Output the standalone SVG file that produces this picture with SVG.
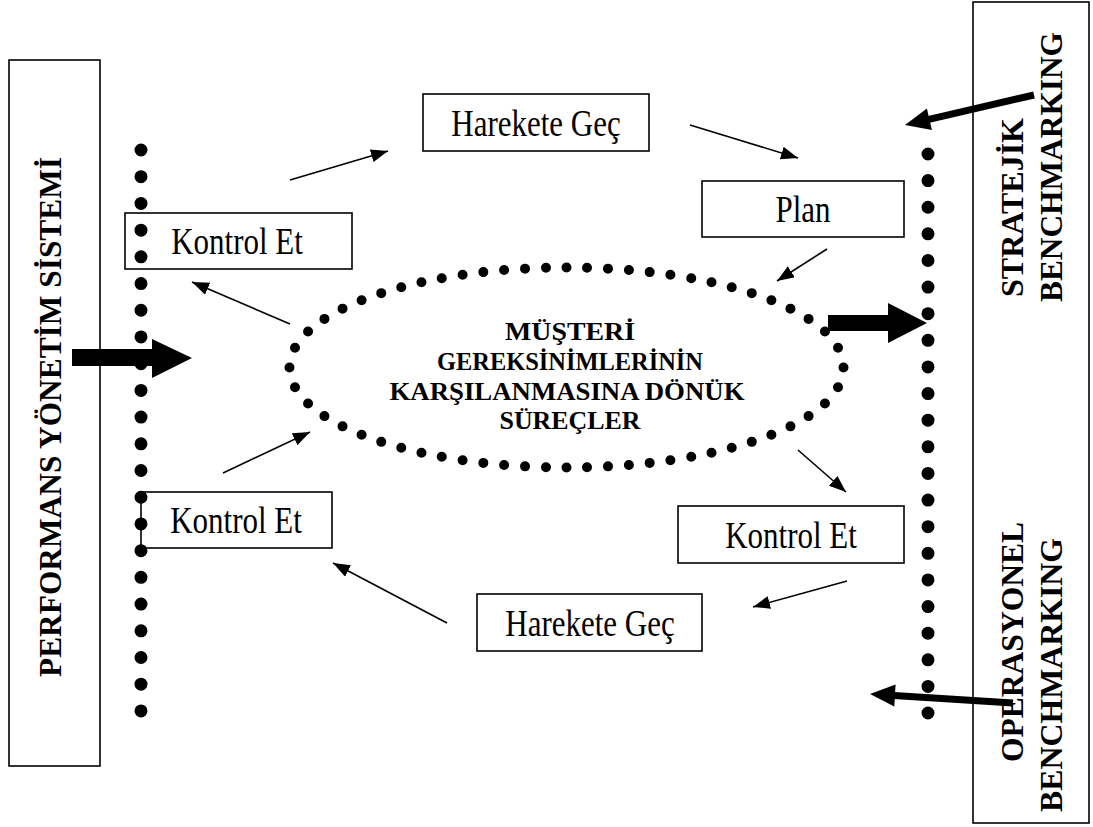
<svg xmlns="http://www.w3.org/2000/svg" width="1093" height="827" viewBox="0 0 1093 827">
  <defs>
    <style>
      .box { fill: none; stroke: #000; stroke-width: 1.6; }
      .lbl { font-family: "Liberation Serif", "Times New Roman", serif; font-size: 31px; fill: #000; text-anchor: middle; }
      .vlbl { font-family: "Liberation Serif", "Times New Roman", serif; font-size: 32px; font-weight: bold; fill: #000; }
      .core { font-family: "Liberation Serif", "Times New Roman", serif; font-size: 26px; font-weight: bold; fill: #000; text-anchor: middle; }
      .dots { fill: none; stroke: #000; stroke-linecap: round; }
      .thin { stroke: #000; stroke-width: 1.6; fill: none; marker-end: url(#head); }
      .bold { fill: #000; stroke: none; }
    </style>
    <marker id="head" markerUnits="userSpaceOnUse" markerWidth="18" markerHeight="14" refX="17" refY="6.5" orient="auto">
      <path d="M0,0 L17,6.5 L0,13 z" fill="#000"/>
    </marker>
  </defs>

  <rect width="1093" height="827" fill="#fff"/>

  <!-- side panels -->
  <g id="performans-yonetim-sistemi">
    <rect class="box" x="9" y="60" width="91" height="706"/>
    <text class="vlbl" font-size="34" transform="translate(60.5,677) rotate(-90)" textLength="520" lengthAdjust="spacingAndGlyphs">PERFORMANS YÖNETİM SİSTEMİ</text>
  </g>
  <g id="benchmarking-panel">
    <rect class="box" x="973" y="2" width="116" height="821"/>
  </g>
  <g id="stratejik-benchmarking">
    <text class="vlbl" transform="translate(1023,297) rotate(-90)" textLength="179" lengthAdjust="spacingAndGlyphs">STRATEJİK</text>
    <text class="vlbl" transform="translate(1062,302) rotate(-90)" textLength="270" lengthAdjust="spacingAndGlyphs">BENCHMARKING</text>
  </g>
  <g id="operasyonel-benchmarking">
    <text class="vlbl" transform="translate(1023,762) rotate(-90)" textLength="240" lengthAdjust="spacingAndGlyphs">OPERASYONEL</text>
    <text class="vlbl" transform="translate(1062,812) rotate(-90)" textLength="274" lengthAdjust="spacingAndGlyphs">BENCHMARKING</text>
  </g>

  <!-- step boxes (labels set in a tall, narrow face) -->
  <g id="kontrol-et-1">
    <rect class="box" x="125" y="213" width="227" height="56"/>
    <text class="lbl" transform="translate(237,254) scale(1,1.22)">Kontrol Et</text>
  </g>
  <g id="harekete-gec-1">
    <rect class="box" x="423" y="94" width="226" height="57"/>
    <text class="lbl" transform="translate(536,135.5) scale(1,1.22)">Harekete Geç</text>
  </g>
  <g id="plan">
    <rect class="box" x="702" y="181" width="202" height="56"/>
    <text class="lbl" transform="translate(803,222) scale(1,1.22)">Plan</text>
  </g>
  <g id="kontrol-et-2">
    <rect class="box" x="141" y="492" width="191" height="56"/>
    <text class="lbl" transform="translate(236,533) scale(1,1.22)">Kontrol Et</text>
  </g>
  <g id="kontrol-et-3">
    <rect class="box" x="678" y="506" width="226" height="57"/>
    <text class="lbl" transform="translate(791,547.5) scale(1,1.22)">Kontrol Et</text>
  </g>
  <g id="harekete-gec-2">
    <rect class="box" x="477" y="594" width="225" height="57"/>
    <text class="lbl" transform="translate(590,635.5) scale(1,1.22)">Harekete Geç</text>
  </g>

  <!-- dotted boundaries -->
  <g id="left-boundary">
    <line class="dots" x1="141" y1="150" x2="141" y2="712" stroke-width="13" stroke-dasharray="0 26.71"/>
  </g>
  <g id="right-boundary">
    <line class="dots" x1="928" y1="154" x2="928" y2="714" stroke-width="13" stroke-dasharray="0 26.62"/>
  </g>

  <!-- central process -->
  <g id="musteri-surecleri">
    <ellipse class="dots" cx="566.5" cy="367.5" rx="277" ry="100" stroke-width="10" pathLength="60" stroke-dasharray="0 1"/>
    <text class="core" x="570" y="340" textLength="130" lengthAdjust="spacingAndGlyphs">MÜŞTERİ</text>
    <text class="core" x="570" y="370" textLength="266" lengthAdjust="spacingAndGlyphs">GEREKSİNİMLERİNİN</text>
    <text class="core" x="567" y="400" textLength="355" lengthAdjust="spacingAndGlyphs">KARŞILANMASINA DÖNÜK</text>
    <text class="core" x="570" y="429" textLength="141" lengthAdjust="spacingAndGlyphs">SÜREÇLER</text>
  </g>

  <!-- connectors -->
  <g id="connectors">
    <line class="thin" x1="290" y1="180" x2="388" y2="151"/>
    <line class="thin" x1="690" y1="125" x2="798" y2="158"/>
    <line class="thin" x1="827" y1="249" x2="777" y2="281"/>
    <line class="thin" x1="290" y1="324" x2="192" y2="282"/>
    <line class="thin" x1="223" y1="473" x2="310" y2="432"/>
    <line class="thin" x1="798" y1="450" x2="846" y2="492"/>
    <line class="thin" x1="847" y1="581" x2="753" y2="607"/>
    <line class="thin" x1="447" y1="623" x2="333" y2="563"/>

    <polygon class="bold" points="72,349 152,349 152,339 192,358 152,378 152,366 72,366"/>
    <polygon class="bold" points="828,315 888,315 888,303 927,323 888,343 888,331 828,331"/>

    <line x1="1034" y1="95" x2="929" y2="119.3" stroke="#000" stroke-width="7"/>
    <polygon class="bold" points="905,125 931.9,130 926.9,108.6"/>
    <line x1="1013" y1="703" x2="894" y2="695.6" stroke="#000" stroke-width="7"/>
    <polygon class="bold" points="870,694 895.6,684.6 894.3,706.5"/>
  </g>
</svg>
